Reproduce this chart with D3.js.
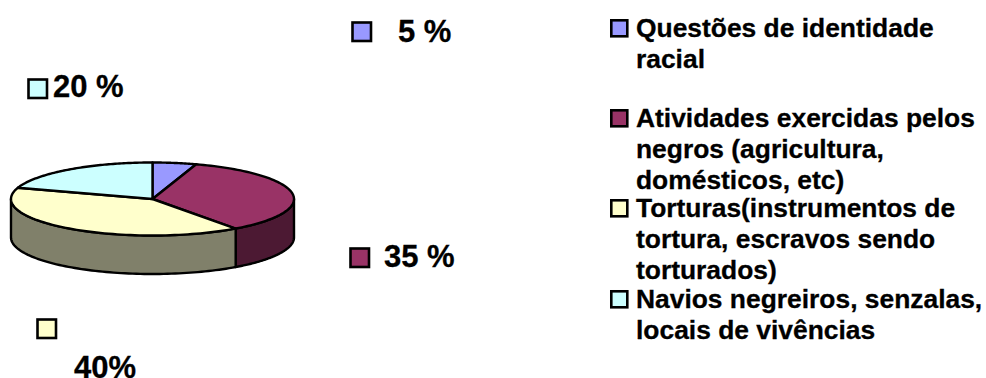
<!DOCTYPE html>
<html>
<head>
<meta charset="utf-8">
<script src="https://cdn.jsdelivr.net/npm/d3@7"></script>
<style>
html,body{margin:0;padding:0;background:#fff;overflow:hidden}
svg{display:block}
text{font-family:"Liberation Sans",Arial,sans-serif;font-weight:bold;fill:#000;stroke:#000;stroke-width:0.3px}
</style>
</head>
<body>
<svg id="chart" width="986" height="378"></svg>
<script>
// Thematic shares of the images, drawn as a tilted pie with a legend.
const categories = ["Questões de identidade racial", "Atividades exercidas pelos negros (agricultura, domésticos, etc)", "Torturas(instrumentos de tortura, escravos sendo torturados)", "Navios negreiros, senzalas, locais de vivências"];
const legendLines = [["Questões de identidade", "racial"], ["Atividades exercidas pelos", "negros (agricultura,", "domésticos, etc)"], ["Torturas(instrumentos de", "tortura, escravos sendo", "torturados)"], ["Navios negreiros, senzalas,", "locais de vivências"]];
const values = [5, 35, 40, 20];
const valueLabels = ["5 %", "35 %", "40%", "20 %"];
const topColors = ["#9999FF", "#993366", "#FFFFCC", "#CCFFFF"];
const wallColors = ["#4C4C80", "#4C1933", "#80806A", "#668080"];

const svg = d3.select("#chart");
const cx = 152.5, cy = 199, rx = 141.5, ry = 36.5, depth = 38.5;
const outline = "#000";

const slices = d3.pie().sort(null).value(d => d)(values);

// x/y scales map the unit circle onto the tilted ellipse
const sx = d3.scaleLinear().domain([-1, 1]).range([cx - rx, cx + rx]);
const sy = d3.scaleLinear().domain([-1, 1]).range([cy - ry, cy + ry]);
const rimPoint = a => [sx(Math.sin(a)), sy(-Math.cos(a))];
const rimArc = (a0, a1) => d3.range(0, 81).map(i => rimPoint(a0 + (a1 - a0) * i / 80));
const line = d3.line();

// Front wall: only the part of the rim between 90° and 270° faces the viewer
const wallG = svg.append("g");
slices.forEach((s, i) => {
  const a0 = Math.max(s.startAngle, Math.PI / 2);
  const a1 = Math.min(s.endAngle, 3 * Math.PI / 2);
  if (a1 <= a0) return;
  const upper = rimArc(a0, a1);
  const lower = upper.map(p => [p[0], p[1] + depth]).reverse();
  wallG.append("path")
    .attr("d", line(upper.concat(lower)) + "Z")
    .attr("fill", wallColors[i])
    .attr("stroke", outline).attr("stroke-width", 2.4).attr("stroke-linejoin", "round");
});

// Top face
const topG = svg.append("g");
slices.forEach((s, i) => {
  topG.append("path")
    .attr("d", line([[cx, cy]].concat(rimArc(s.startAngle, s.endAngle))) + "Z")
    .attr("fill", topColors[i])
    .attr("stroke", outline).attr("stroke-width", 2.4).attr("stroke-linejoin", "round");
});

// Value labels, each with its colour key
const labelKeyPos = [[351, 21], [349, 247], [36, 318], [27, 78]];
const labelTextPos = [[398, 42], [384, 267], [74, 378], [53, 97]];
const labelG = svg.append("g");
values.forEach((v, i) => {
  labelG.append("rect")
    .attr("x", labelKeyPos[i][0] + 1.5).attr("y", labelKeyPos[i][1] + 1.5)
    .attr("width", 18.5).attr("height", 18.5)
    .attr("fill", topColors[i]).attr("stroke", outline).attr("stroke-width", 2.6);
  labelG.append("text")
    .attr("x", labelTextPos[i][0]).attr("y", labelTextPos[i][1])
    .attr("font-size", 31).text(valueLabels[i]);
});

// Legend
const legendKeyY = [19, 109, 199, 290];
const legendFirstBaseline = [37, 127, 217, 308];
const legendLineStep = 30.8;
const legendG = svg.append("g");
categories.forEach((c, i) => {
  legendG.append("rect")
    .attr("x", 611.3).attr("y", legendKeyY[i] + 1.3)
    .attr("width", 16).attr("height", 16)
    .attr("fill", topColors[i]).attr("stroke", outline).attr("stroke-width", 2.6);
  legendLines[i].forEach((t, j) => {
    legendG.append("text")
      .attr("x", 636).attr("y", legendFirstBaseline[i] + j * legendLineStep)
      .attr("font-size", 26.4).text(t);
  });
});
</script>
</body>
</html>
